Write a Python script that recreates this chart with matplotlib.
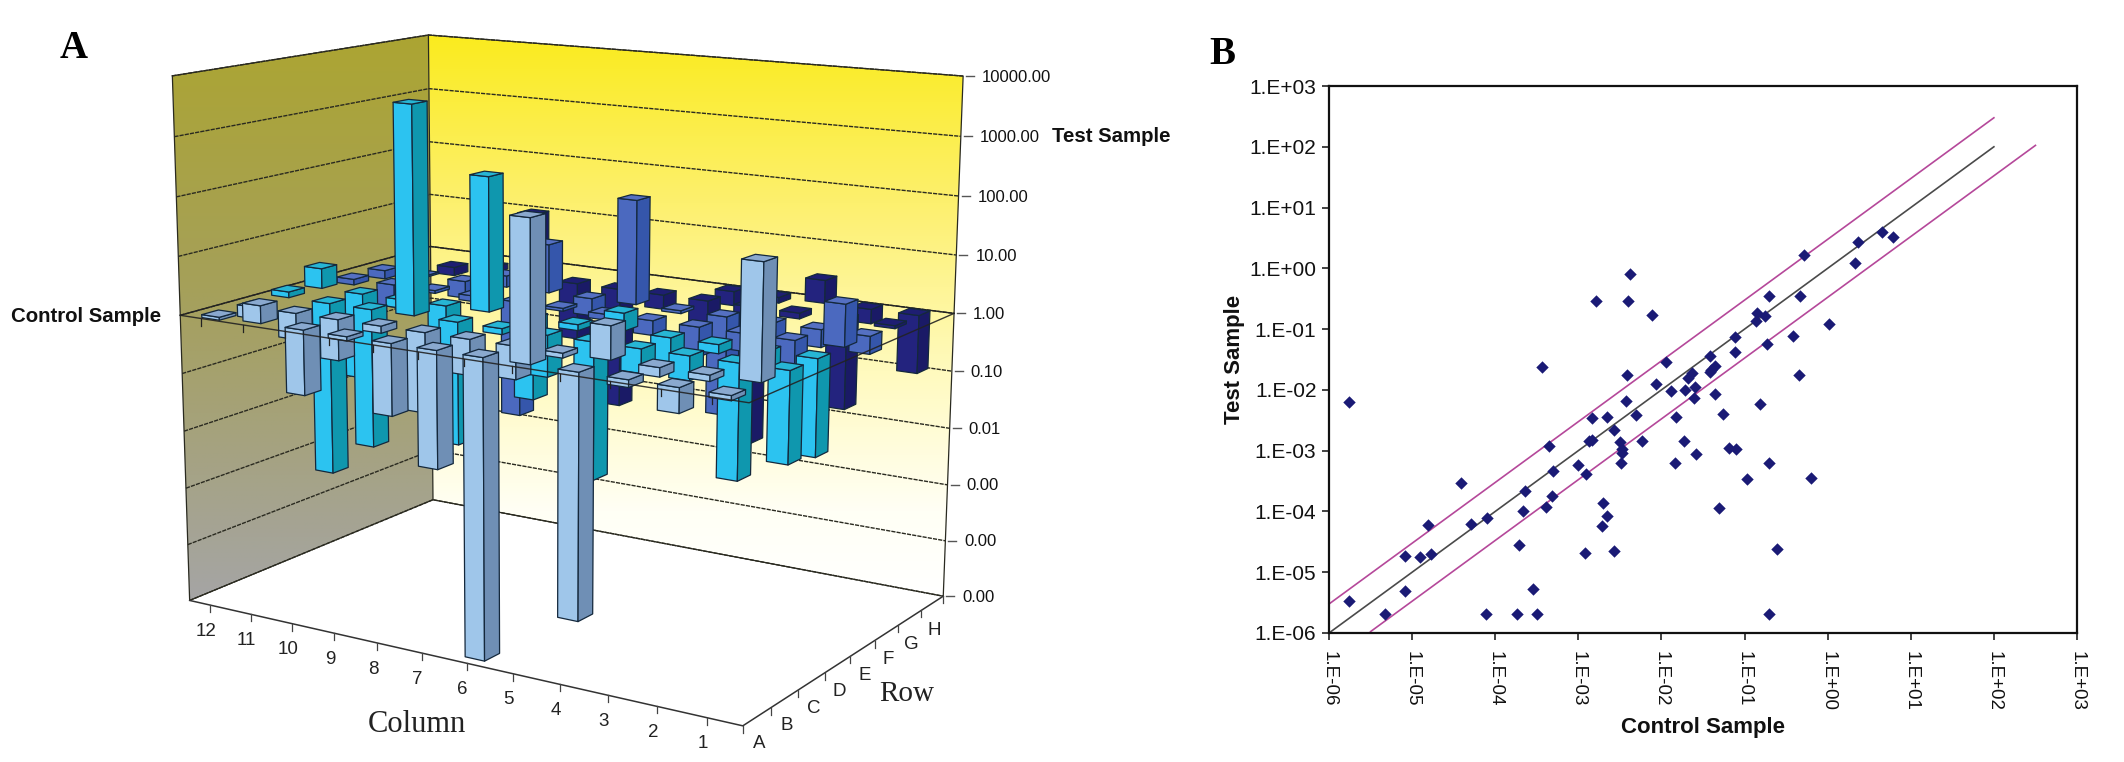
import numpy as np
import matplotlib
matplotlib.use('Agg')
import matplotlib.pyplot as plt
from matplotlib.patches import Polygon
from matplotlib.collections import PolyCollection

W, H = 2124, 762
nan = float('nan')

columns = [12, 11, 10, 9, 8, 7, 6, 5, 4, 3, 2, 1]
rows = ['A', 'B', 'C', 'D', 'E', 'F', 'G', 'H']
row_A = [-0.05, 0.3, -1.1, -0.07, -1.2, -1.95, -5.0, 2.3, -4.0, -0.12, -0.4, -0.08]
row_B = [-0.2, -0.45, -0.7, -0.12, -1.35, -0.6, -0.55, -0.08, 0.55, -0.15, -0.1, 1.85]
row_C = [0.1, -3.0, -2.4, 3.55, -2.1, -0.1, -0.7, -2.3, -0.4, -0.4, -1.9, -1.5]
row_D = [0.35, -1.5, -0.15, -0.9, 2.3, -1.4, -0.1, 0.3, -0.5, -0.15, -0.3, -1.6]
row_E = [-0.1, -0.4, -0.05, -0.1, -2.0, -0.05, -0.1, -0.25, -0.5, -0.3, -0.4, 0.7]
row_F = [-0.15, -0.03, -0.3, 0.2, 0.85, -0.3, 1.8, -0.05, -1.7, -0.3, -0.3, -0.3]
row_G = [nan, -0.15, 0.1, 1.15, -1.0, -2.1, -0.25, -0.4, -2.4, -0.1, -1.55, -0.05]
row_H = [nan, nan, nan, nan, nan, nan, nan, -0.25, -0.1, 0.4, -0.25, -1.0]
z_labels = ['0.00', '0.00', '0.00', '0.01', '0.10', '1.00', '10.00', '100.00', '1000.00', '10000.00']

ctrl_log = [-5.76,-5.76,-5.33,-5.09,-5.09,-4.91,-4.81,-4.77,-4.41,-4.29,-4.10,-4.11,-3.74,-3.71,-3.66,-3.64,-3.54,-3.50,-3.44,-3.39,-3.35,-3.32,-3.31,-3.01,-2.92,-2.91,-2.87,-2.84,-2.84,-2.79,-2.71,-2.70,-2.66,-2.65,-2.57,-2.57,-2.50,-2.48,-2.48,-2.49,-2.43,-2.41,-2.40,-2.38,-2.31,-2.23,-2.11,-2.06,-1.94,-1.89,-1.84,-1.82,-1.73,-1.72,-1.68,-1.63,-1.61,-1.60,-1.58,-1.41,-1.42,-1.40,-1.36,-1.36,-1.31,-1.26,-1.19,-1.12,-1.11,-1.10,-0.97,-0.86,-0.85,-0.82,-0.76,-0.73,-0.71,-0.71,-0.70,-0.61,-0.42,-0.34,-0.33,-0.28,-0.20,0.02,0.33,0.36,0.65,0.79]
test_log = [-2.20,-5.47,-5.68,-4.73,-5.31,-4.75,-4.23,-4.70,-3.54,-4.21,-4.11,-5.68,-5.68,-4.55,-3.99,-3.66,-5.27,-5.68,-1.63,-3.93,-2.92,-3.74,-3.33,-3.24,-4.68,-3.39,-2.84,-2.82,-2.47,-0.53,-4.24,-3.86,-4.07,-2.44,-4.65,-2.66,-2.85,-2.98,-3.04,-3.20,-2.18,-1.76,-0.54,-0.10,-2.42,-2.84,-0.77,-1.91,-1.54,-2.02,-3.20,-2.44,-2.84,-2.01,-1.80,-1.72,-2.14,-1.96,-3.06,-1.44,-1.71,-1.68,-1.60,-2.07,-3.95,-2.39,-2.96,-1.38,-1.13,-2.97,-3.46,-0.86,-0.74,-2.24,-0.78,-1.24,-3.20,-5.68,-0.45,-4.61,-1.12,-1.76,-0.46,0.22,-3.45,-0.91,0.09,0.43,0.59,0.51]
line_x = [1e-6, 1e2]
upper_x = [1e-6, 1e2]
lower_x = [10**-5.5, 10**2.5]
x_ticks_B = ['1.E-06', '1.E-05', '1.E-04', '1.E-03', '1.E-02', '1.E-01', '1.E+00', '1.E+01', '1.E+02', '1.E+03']
y_ticks_B = ['1.E-06', '1.E-05', '1.E-04', '1.E-03', '1.E-02', '1.E-01', '1.E+00', '1.E+01', '1.E+02', '1.E+03']

plt.rcParams['font.family'] = ['Liberation Sans', 'DejaVu Sans']
fig = plt.figure(figsize=(W / 100, H / 100), dpi=100, facecolor='white')
ax = fig.add_axes([0, 0, 1, 1])
ax.set_xlim(0, W)
ax.set_ylim(H, 0)
ax.axis('off')

# projective camera for the 3D chart (u: column axis, v: row axis, z: log10 value)
calib = [
    ((0, 0, -5), (738, 726)), ((12, 0, -5), (190, 600)), ((12, 8, -5), (434, 500)),
    ((0, 8, -5), (943, 597)), ((12, 0, 4), (171.4, 77)), ((12, 8, 4), (428.6, 35)),
    ((0, 8, 4), (960, 76)), ((12, 0, 0), (180, 316)), ((12, 8, 0), (430, 245)),
    ((0, 8, 0), (956.6, 314)), ((0, 0, 0), (755, 401)),
]
A_, b_ = [], []
for (X, Y, Z), (x, y) in calib:
    A_.append([X, Y, Z, 1, 0, 0, 0, 0, -x * X, -x * Y, -x * Z]); b_.append(x)
    A_.append([0, 0, 0, 0, X, Y, Z, 1, -y * X, -y * Y, -y * Z]); b_.append(y)
p = np.linalg.lstsq(np.array(A_, float), np.array(b_, float), rcond=None)[0]
M = np.append(p, 1).reshape(3, 4)


def proj(u, v, z):
    q = M @ np.array([u, v, z, 1.0])
    return q[0] / q[2], q[1] / q[2]


def col_u(c):
    return 0.68 + 0.983 * (c - 1)


def row_v(r):
    return 0.5 + 1.03 * r


def wall(c1, c2, stops):
    n = 256
    fr = [s[0] for s in stops]
    grad = np.stack([np.interp(np.linspace(0, 1, n), fr, [s[1][i] for s in stops]) for i in range(3)], axis=-1)[:, None, :]
    poly = [proj(*c1, 4), proj(*c2, 4), proj(*c2, -5), proj(*c1, -5)]
    xs = [q[0] for q in poly]; ys = [q[1] for q in poly]
    im = ax.imshow(grad / 255, extent=[min(xs), max(xs), max(ys), min(ys)], aspect='auto', zorder=1)
    patch = Polygon(poly, closed=True, transform=ax.transData, fc='none', ec='none')
    ax.add_patch(patch)
    im.set_clip_path(patch)
    ax.set_xlim(0, W); ax.set_ylim(H, 0)


wall((12, 0), (12, 8), [(0, (172, 165, 50)), (0.45, (165, 160, 90)), (1, (165, 165, 165))])
wall((12, 8), (0, 8), [(0, (250, 235, 30)), (0.3, (253, 240, 110)), (0.6, (255, 250, 190)), (0.85, (255, 255, 245)), (1, (255, 255, 255))])

EC = '#2a2a20'
for i in range(10):
    z = i - 5
    ls = (0, (3, 0.8))
    pts = [proj(12, 0, z), proj(12, 8, z), proj(0, 8, z)]
    ax.plot(*zip(*pts), color=EC, lw=1.0, ls=ls, zorder=2)
    x, y = proj(0, 8, z)
    ax.plot([x + 3, x + 11], [y, y], color='#555555', lw=1, zorder=2)
    ax.text(x + 19, y + 1, z_labels[i], fontsize=12, va='center', ha='left', color='#111111', zorder=6)
edge = [proj(12, 0, 4), proj(12, 0, -5), proj(12, 8, -5), proj(12, 8, 4), proj(12, 0, 4)]
ax.plot(*zip(*edge), color=EC, lw=0.9, zorder=2)
edge = [proj(12, 8, 4), proj(0, 8, 4), proj(0, 8, -5), proj(12, 8, -5)]
ax.plot(*zip(*edge), color=EC, lw=0.9, zorder=2)
floor = [proj(12, 0, -5), proj(0, 0, -5), proj(0, 8, -5)]
ax.plot(*zip(*floor), color='#333333', lw=1.1, zorder=2)
plane = [proj(12, 0, 0), proj(12, 8, 0), proj(0, 8, 0)]
ax.plot(*zip(*plane), color='#222222', lw=1.0, zorder=3)

for c in columns:
    x, y = proj(col_u(c), 0, -5)
    ax.plot([x, x], [y, y + 7], color='#444444', lw=0.9, zorder=2)
    ax.text(x - 4, y + 26, str(c), fontsize=13.5, ha='center', va='center', color='#222222', zorder=6)
for j in range(9):
    x, y = proj(0, j, -5)
    ax.plot([x, x], [y, y + 7], color='#444444', lw=0.9, zorder=2)
for j, r in enumerate(rows):
    x, y = proj(0, j + 0.5, -5)
    ax.text(x + 2, y + 27, r, fontsize=13.5, ha='center', va='center', color='#222222', zorder=6)

palette = {
    0: ('#9fc6ea', '#6f8fb5', '#8aa9cf'),
    1: ('#2cc3f0', '#0f97ae', '#27b5d4'),
    2: ('#4b69bf', '#3556ab', '#5570c2'),
    3: ('#23237e', '#1a1a66', '#1e1e72'),
}
table = [row_A, row_B, row_C, row_D, row_E, row_F, row_G, row_H]
BW, BD = 0.21, 0.24
zo = 3.0
for r in range(7, -1, -1):
    group = palette[r // 2]
    for j, c in enumerate(columns):
        val = table[r][j]
        if np.isnan(val):
            continue
        u, v = col_u(c), row_v(r)
        lo, hi = min(val, 0), max(val, 0)
        u0, u1, v0, v1 = u - BW, u + BW, v - BD, v + BD
        front = [proj(u1, v0, hi), proj(u0, v0, hi), proj(u0, v0, lo), proj(u1, v0, lo)]
        side = [proj(u0, v0, hi), proj(u0, v1, hi), proj(u0, v1, lo), proj(u0, v0, lo)]
        top = [proj(u0, v0, hi), proj(u1, v0, hi), proj(u1, v1, hi), proj(u0, v1, hi)]
        zo += 0.001
        pc = PolyCollection([front, side, top], facecolors=[group[0], group[1], group[2]],
                            edgecolors='#14283c', linewidths=0.9, zorder=zo)
        ax.add_collection(pc)

front_line = [proj(12, 0, 0), proj(0, 0, 0), proj(0, 8, 0)]
ax.plot(*zip(*front_line), color='#222222', lw=1.0, zorder=5, alpha=0.9)
for c in columns:
    x, y = proj(col_u(c), 0, 0)
    ax.plot([x, x], [y, y + 7], color='#222222', lw=0.9, zorder=5)

ax.text(11, 317, 'Control Sample', fontsize=14.7, fontweight='bold', va='center', ha='left', color='#111111')
ax.text(1052, 137, 'Test Sample', fontsize=14.7, fontweight='bold', va='center', ha='left', color='#111111')
ax.text(417, 724, 'Column', family='Liberation Serif', fontsize=22, ha='center', va='center', color='#222222')
ax.text(907, 694, 'Row', family='Liberation Serif', fontsize=21, ha='center', va='center', color='#222222')
ax.text(74, 48, 'A', family='Liberation Serif', fontweight='bold', fontsize=28, ha='center', va='center')
ax.text(1222, 54, 'B', family='Liberation Serif', fontweight='bold', fontsize=28, ha='center', va='center')

# Panel B
L, R, T, Bt = 1329, 2077, 86, 633
axb = fig.add_axes([L / W, 1 - Bt / H, (R - L) / W, (Bt - T) / H])
axb.set_xscale('log'); axb.set_yscale('log')
axb.set_xlim(1e-6, 1e3); axb.set_ylim(1e-6, 1e3)
xt = 10.0 ** np.arange(-6, 4)
axb.set_xticks(xt); axb.set_yticks(xt)
axb.set_xticklabels(x_ticks_B, rotation=270, fontsize=13.5, color='#111111')
axb.set_yticklabels(y_ticks_B, fontsize=15, color='#111111')
axb.minorticks_off()
axb.tick_params(axis='both', length=5, width=1.2, color='#222222', pad=4)
axb.tick_params(axis='x', pad=8)
for s in axb.spines.values():
    s.set_linewidth(1.6); s.set_color('#111111')
lx = np.array(line_x); ux = np.array(upper_x); wx = np.array(lower_x)
axb.plot(lx, lx, color='#4a4a4a', lw=1.2, zorder=2)
axb.plot(ux, ux * 3, color='#b5489a', lw=1.2, zorder=2, clip_on=False)
axb.plot(wx, wx / 3, color='#b5489a', lw=1.2, zorder=2, clip_on=False)
axb.scatter(10.0 ** np.array(ctrl_log), 10.0 ** np.array(test_log), marker='D', s=40, color='#1a1a75', zorder=3, linewidths=0)
axb.set_xlabel('Control Sample', fontsize=16, fontweight='bold', labelpad=4, color='#111111')
axb.set_ylabel('Test Sample', fontsize=16, fontweight='bold', labelpad=3, color='#111111')

fig.savefig('out.png', dpi=100)
